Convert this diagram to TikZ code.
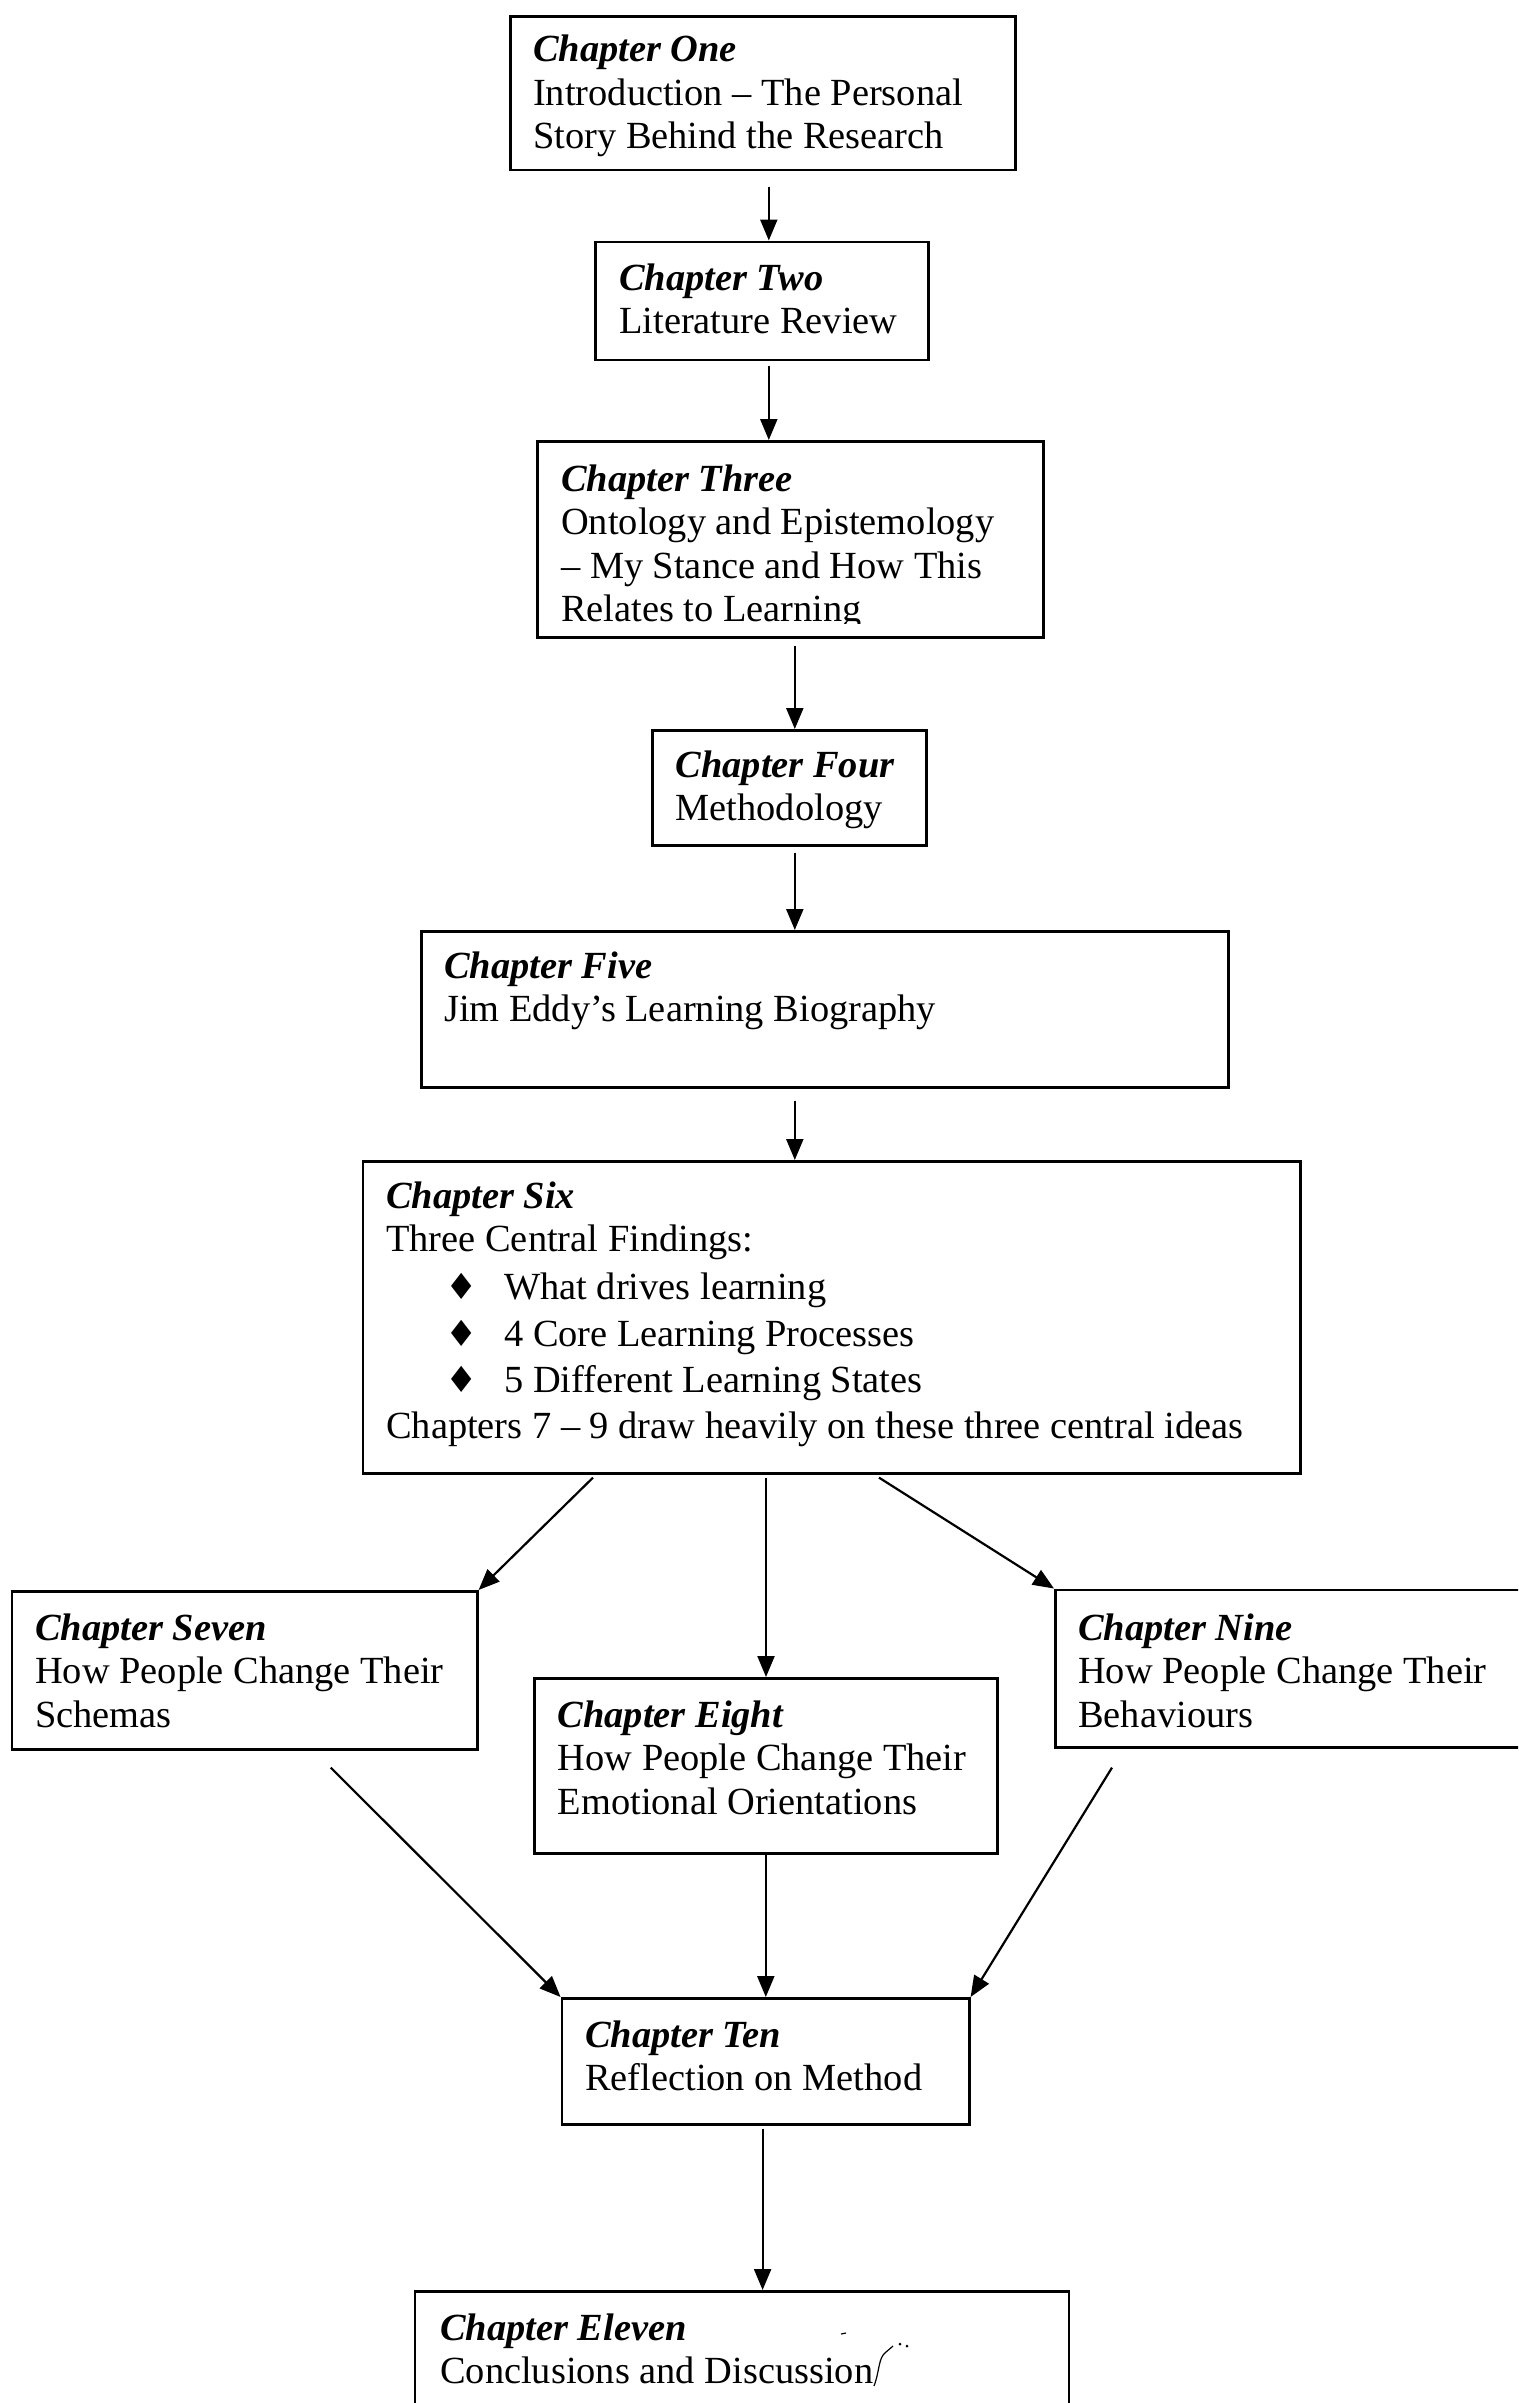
\documentclass[tikz,border=0pt]{standalone}
\usepackage{fontspec}
\setmainfont{Liberation Serif}
\newfontfamily\symfont{DejaVu Sans}
\usetikzlibrary{arrows.meta,calc}

\tikzset{
  chapbox/.style={draw, line width=2.6pt, inner sep=0pt, anchor=north west},
  chaptext/.style={inner sep=0pt, anchor=base west, font=\fontsize{38.4}{43.5}\selectfont},
  flow/.style={line width=2.2pt, -{Triangle[length=21pt,width=17pt]}}
}
% title in bold italic, then the plain lines
\newcommand\chap[2]{\parbox[t]{1000pt}{\textbf{\textit{#1}}\\#2}}
% diamond bullet with its hanging indent
\newcommand\bul{\makebox[118pt][l]{\hspace{59pt}{\symfont\fontsize{36}{36}\selectfont ♦}}}

\begin{document}
\begin{tikzpicture}[x=1pt,y=-1pt]
\useasboundingbox (0,0) rectangle (1518,2403);
\clip (0,0) rectangle (1518,2403);

% boxes
\node[chapbox, minimum width=505pt, minimum height=153.5pt] (b1) at (509,15) {};
\node[chapbox, minimum width=333pt, minimum height=118pt] (b2) at (594,240.5) {};
\node[chapbox, minimum width=506pt, minimum height=196pt] (b3) at (536,440) {};
\node[chapbox, minimum width=274pt, minimum height=115pt] (b4) at (651,729) {};
\node[chapbox, minimum width=807pt, minimum height=156pt] (b5) at (420,930) {};
\node[chapbox, minimum width=937.5pt, minimum height=312pt] (b6) at (361.5,1160) {};
\node[chapbox, minimum width=465.3pt, minimum height=158pt] (b7) at (10.7,1590) {};
\node[chapbox, minimum width=463pt, minimum height=175pt] (b8) at (533,1677) {};
\node[chapbox, minimum width=520pt, minimum height=157.5pt] (b9) at (1054,1588.5) {};
\node[chapbox, minimum width=407.4pt, minimum height=126pt] (b10) at (560.6,1997) {};
\node[chapbox, minimum width=654pt, minimum height=200pt] (b11) at (413.6,2290) {};

% texts
\node[chaptext] (t1) at (533,62) {\chap{Chapter One}{Introduction – The Personal\\Story Behind the Research}};
\node[chaptext] (t2) at (619,290) {\chap{Chapter Two}{Literature Review}};
\begin{scope}
  \clip (536,440) rectangle (1042,623);
  \node[chaptext] (t3) at (561,491) {\chap{Chapter Three}{Ontology and Epistemology\\– My Stance and How This\\Relates to Learning}};
\end{scope}
\node[chaptext] (t4) at (675.5,777) {\chap{Chapter Four}{Methodology}};
\node[chaptext] (t5) at (444,978) {\chap{Chapter Five}{Jim Eddy’s Learning Biography}};
\node[chaptext] (t6) at (386,1208) {\chap{Chapter Six}{Three Central Findings:\\[4pt]
  \bul What drives learning\\[4pt]
  \bul 4 Core Learning Processes\\[2.5pt]
  \bul 5 Different Learning States\\[2.5pt]
  Chapters 7 – 9 draw heavily on these three central ideas}};
\node[chaptext] (t7) at (35,1640) {\chap{Chapter Seven}{How People Change Their\\Schemas}};
\node[chaptext] (t8) at (557.6,1727) {\chap{Chapter Eight}{How People Change Their\\Emotional Orientations}};
\node[chaptext] (t9) at (1078,1640) {\chap{Chapter Nine}{How People Change Their\\Behaviours}};
\node[chaptext] (t10) at (585,2047) {\chap{Chapter Ten}{Reflection on Method}};
\node[chaptext] (t11) at (440,2340) {\chap{Chapter Eleven}{Conclusions and Discussion}};

% vertical links down the chain
\draw[flow] ($(b1.south)+(6,15.5)$) coordinate (s1) -- (s1 |- b2.north);
\draw[flow] ($(b2.south)+(7,4.5)$) coordinate (s2) -- (s2 |- b3.north);
\draw[flow] ($(b3.south)+(4.5,7)$) coordinate (s3) -- (s3 |- b4.north);
\draw[flow] ($(b4.south)+(5.5,6)$) coordinate (s4) -- (s4 |- b5.north);
\draw[flow] ($(b5.south)+(-30,12)$) coordinate (s5) -- (s5 |- b6.north);

% fan out from chapter six
\draw[flow] ($(b6.south west)+(231.5,3)$) -- (b7.north east);
\draw[flow] ($(b6.south west)+(404.5,3)$) coordinate (s6) -- (s6 |- b8.north);
\draw[flow] ($(b6.south west)+(517.5,3)$) -- (b9.north west);

% fan in to chapter ten
\draw[flow] ($(b7.south west)+(320,17)$) -- (b10.north west);
\draw[flow] (b8.south) -- (b8.south |- b10.north);
\draw[flow] ($(b9.south west)+(58,19)$) -- (b10.north east);

\draw[flow] ($(b10.south)+(-3,3)$) coordinate (s10) -- (s10 |- b11.north);

% stray pen mark beside the last line
\draw[line width=1.2pt] (841,2334) -- (846,2333);
\draw[line width=1.2pt] (874,2386) .. controls (880,2370) and (878,2358) .. (886,2352) -- (893,2346);
\fill (900,2344) circle (1.5pt) (907,2346) circle (1.5pt);
\end{tikzpicture}
\end{document}
